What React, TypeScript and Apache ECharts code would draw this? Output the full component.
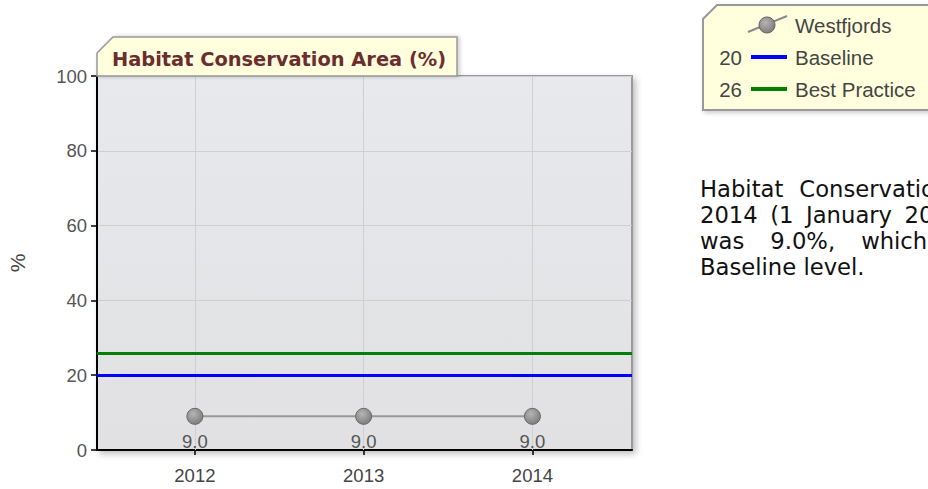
import React, { useEffect, useRef } from 'react';
import * as echarts from 'echarts';

const years = [2012, 2013, 2014];
const westfjordsValues = [9.0, 9.0, 9.0];
const seriesName = 'Westfjords';
const referenceNames = ['Baseline', 'Best Practice'];
const referenceValues = [20, 26];
const chartTitle = 'Habitat Conservation Area (%)';
const yAxisName = '%';
const paragraphLines = [
  'Habitat Conservation Area in',
  '2014 (1 January 2014)',
  'was 9.0%, which is below the',
  'Baseline level.',
];

const SANS = "'Liberation Sans', Arial, sans-serif";
const VERD = "'DejaVu Sans', Verdana, sans-serif";

export default function App() {
  const ref = useRef<HTMLDivElement>(null);
  useEffect(() => {
    const chart = echarts.init(ref.current!, null, { renderer: 'svg' });

    const ctx = document.createElement('canvas').getContext('2d')!;
    const pFont = `22.7px ${VERD}`;
    ctx.font = pFont;
    const spaceW = ctx.measureText(' ').width;
    const gaps = [16, 12.5, 26, spaceW];
    const paraEls: any[] = [];
    paragraphLines.forEach((line, i) => {
      let x = 700;
      const y = 188.5 + i * 26.3;
      line.split(' ').forEach((w) => {
        paraEls.push({
          type: 'text', x, y, silent: true,
          style: { text: w, font: pFont, fill: '#111', align: 'left', verticalAlign: 'middle', textAlign: 'left', textVerticalAlign: 'middle' },
        });
        x += ctx.measureText(w).width + gaps[i];
      });
    });

    const markerFill = new echarts.graphic.RadialGradient(0.4, 0.35, 0.7, [
      { offset: 0, color: '#b5b5b5' },
      { offset: 1, color: '#7a7a7a' },
    ]);
    const refColors = ['#0000ff', '#008000'];
    const rowY = [25, 57, 89];
    const lf = `20.5px ${SANS}`;
    const legendEls: any[] = [
      {
        type: 'polygon', silent: true, z: 10,
        shape: { points: [[703, 110], [703, 19], [717, 5], [932, 5], [932, 110]] },
        style: { fill: '#ffffdd', stroke: '#999', lineWidth: 2, shadowBlur: 4, shadowColor: 'rgba(0,0,0,0.2)', shadowOffsetX: 2, shadowOffsetY: 2 },
      },
      { type: 'line', z: 11, silent: true, shape: { x1: 748, y1: 32, x2: 787, y2: 16 }, style: { stroke: '#888', lineWidth: 2 } },
      { type: 'circle', z: 12, silent: true, shape: { cx: 767, cy: 25, r: 8 }, style: { fill: markerFill, stroke: '#666', lineWidth: 1 } },
      {
        type: 'text', z: 12, x: 795, y: rowY[0], silent: true,
        style: { text: seriesName, font: lf, fill: '#444', align: 'left', verticalAlign: 'middle', textAlign: 'left', textVerticalAlign: 'middle' },
      },
    ];
    referenceNames.forEach((n, i) => {
      const y = rowY[i + 1];
      legendEls.push(
        {
          type: 'text', z: 12, x: 742, y, silent: true,
          style: { text: String(referenceValues[i]), font: lf, fill: '#444', align: 'right', verticalAlign: 'middle', textAlign: 'right', textVerticalAlign: 'middle' },
        },
        { type: 'line', z: 12, silent: true, shape: { x1: 751, y1: y, x2: 787, y2: y }, style: { stroke: refColors[i], lineWidth: 4 } },
        {
          type: 'text', z: 12, x: 795, y, silent: true,
          style: { text: n, font: lf, fill: '#444', align: 'left', verticalAlign: 'middle', textAlign: 'left', textVerticalAlign: 'middle' },
        },
      );
    });

    const titleEls: any[] = [
      {
        type: 'polygon', silent: true, z: 10,
        shape: { points: [[97, 76], [97, 53], [113, 37], [457, 37], [457, 76]] },
        style: { fill: '#ffffdd', stroke: '#999', lineWidth: 1.5, shadowBlur: 4, shadowColor: 'rgba(0,0,0,0.2)', shadowOffsetX: 2, shadowOffsetY: 0 },
      },
      {
        type: 'text', z: 11, x: 112, y: 59, silent: true,
        style: { text: chartTitle, font: `bold 19.4px ${VERD}`, fill: '#6b2d2d', align: 'left', verticalAlign: 'middle', textAlign: 'left', textVerticalAlign: 'middle' },
      },
    ];

    const silentMark = {
      silent: true,
      symbol: 'none',
      label: { show: false },
      emphasis: { disabled: true },
      animation: false,
    };

    const option: any = {
      animation: false,
      grid: {
        left: 97, right: 296, top: 76, bottom: 39,
        containLabel: false,
        outerBoundsMode: 'none',
        show: true,
        backgroundColor: new echarts.graphic.LinearGradient(0, 0, 0, 1, [
          { offset: 0, color: '#e7e9ec' },
          { offset: 1, color: '#e1e1e3' },
        ]),
        borderColor: '#999',
        borderWidth: 2,
        shadowBlur: 6,
        shadowColor: 'rgba(0,0,0,0.25)',
        shadowOffsetX: 3,
        shadowOffsetY: 3,
      },
      xAxis: {
        type: 'value',
        min: 2011.42,
        max: 2014.59,
        axisLine: { show: true, lineStyle: { color: '#000', width: 2 } },
        axisTick: { show: true, length: 5, lineStyle: { color: '#000', width: 1.5 }, customValues: years },
        axisLabel: { customValues: years, margin: 16, color: '#444', fontSize: 18.5, fontFamily: SANS, formatter: (v: number) => String(v) },
        splitLine: { show: false },
      },
      yAxis: {
        type: 'value',
        min: 0, max: 100, interval: 20,
        name: yAxisName,
        nameLocation: 'middle',
        nameGap: 69,
        nameTextStyle: { fontSize: 21, fontFamily: SANS, color: '#444' },
        axisLine: { show: true, lineStyle: { color: '#000', width: 2 } },
        axisTick: { show: true, length: 6, lineStyle: { color: '#000', width: 1.5 } },
        axisLabel: { margin: 10, color: '#555', fontSize: 18.5, fontFamily: SANS },
        splitLine: { show: true, lineStyle: { color: '#cfcfcf', width: 1 } },
      },
      graphic: [...titleEls, ...legendEls, ...paraEls],
      series: [
        {
          type: 'line', name: 'grid', data: [], z: 1,
          markLine: { ...silentMark, lineStyle: { color: '#cfcfcf', width: 1, type: 'solid' }, data: years.map((y) => ({ xAxis: y })) },
        },
        ...referenceNames.map((n, i) => ({
          type: 'line', name: n, data: [], z: 2,
          markLine: { ...silentMark, lineStyle: { color: refColors[i], width: 3, type: 'solid' }, data: [{ yAxis: referenceValues[i] }] },
        })),
        {
          type: 'line', name: seriesName, z: 5,
          data: years.map((y, i) => [y, westfjordsValues[i]]),
          symbol: 'circle', symbolSize: 16,
          lineStyle: { color: '#999', width: 2 },
          itemStyle: { color: markerFill, borderColor: '#666', borderWidth: 1 },
          label: {
            show: true, position: 'bottom', distance: 7,
            formatter: (p: any) => Number(p.value[1]).toFixed(1),
            color: '#555', fontSize: 18.5, fontFamily: SANS,
          },
          emphasis: { disabled: true },
        },
      ],
    };
    chart.setOption(option);
    return () => chart.dispose();
  }, []);
  return <div ref={ref} style={{ position: 'absolute', left: 0, top: 0, width: 928, height: 489 }} />;
}
